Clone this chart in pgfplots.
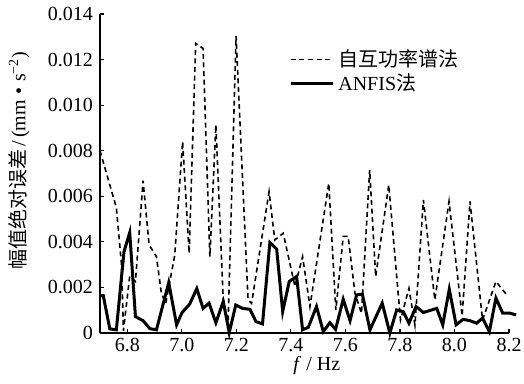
\documentclass[border=0pt]{standalone}
\usepackage{fontspec}
\setmainfont{Liberation Serif}
\newfontfamily\cjk{Noto Sans CJK SC}
\usepackage{pgfplots}
\pgfplotsset{compat=1.18}
\pgfplotstableread{
f v
6.700 0.00164
6.712 0.00164
6.736 0.00018
6.760 0.00014
6.788 0.00357
6.809 0.00441
6.830 0.00072
6.858 0.00054
6.883 0.00019
6.907 0.00014
6.952 0.00221
6.981 0.00036
7.001 0.00090
7.029 0.00127
7.055 0.00195
7.078 0.00108
7.100 0.00131
7.125 0.00045
7.152 0.00138
7.174 0.00002
7.198 0.00123
7.223 0.00108
7.250 0.00104
7.272 0.00050
7.296 0.00040
7.323 0.00397
7.348 0.00368
7.370 0.00094
7.394 0.00226
7.421 0.00248
7.443 0.00014
7.464 0.00025
7.494 0.00116
7.519 0.00006
7.543 0.00045
7.564 0.00016
7.592 0.00148
7.617 0.00054
7.641 0.00167
7.662 0.00171
7.690 0.00014
7.735 0.00131
7.763 0.00000
7.788 0.00101
7.812 0.00094
7.833 0.00043
7.859 0.00116
7.886 0.00090
7.935 0.00108
7.957 0.00036
7.981 0.00192
8.006 0.00036
8.032 0.00060
8.057 0.00054
8.081 0.00043
8.103 0.00065
8.128 0.00006
8.152 0.00153
8.177 0.00087
8.204 0.00087
8.226 0.00079
}\anfis
\pgfplotstableread{
f v
6.700 0.00800
6.760 0.00550
6.779 0.00300
6.786 0.00010
6.809 0.00250
6.830 0.00226
6.858 0.00668
6.880 0.00387
6.907 0.00335
6.925 0.00175
6.941 0.00130
6.974 0.00340
7.003 0.00840
7.027 0.00350
7.051 0.01271
7.078 0.01249
7.103 0.00335
7.125 0.00913
7.152 0.00145
7.170 0.00050
7.199 0.01303
7.243 0.00145
7.256 0.00130
7.320 0.00620
7.341 0.00408
7.372 0.00438
7.415 0.00204
7.443 0.00335
7.470 0.00116
7.539 0.00657
7.565 0.00101
7.592 0.00424
7.610 0.00424
7.635 0.00175
7.659 0.00086
7.689 0.00716
7.711 0.00248
7.759 0.00650
7.802 0.00057
7.833 0.00196
7.855 0.00035
7.886 0.00584
7.928 0.00145
7.980 0.00577
8.028 0.00075
8.057 0.00577
8.103 0.00057
8.152 0.00226
8.192 0.00167
}\psd
\begin{document}
\begin{tikzpicture}
\begin{axis}[
  at={(0,0)}, anchor=south west,
  scale only axis, width=204.5pt, height=159.5pt,
  xmin=6.7, xmax=8.2, ymin=0, ymax=0.014, clip=false,
  axis x line*=bottom, axis y line*=left,
  axis line style={-, line width=0.75pt},
  tick align=inside, major tick length=2pt,
  tick style={line width=0.6pt, black},
  xtick={6.8,7.0,7.2,7.4,7.6,7.8,8.0,8.2},
  xticklabels={6.8,7.0,7.2,7.4,7.6,7.8,8.0,8.2},
  ytick={0,0.002,0.004,0.006,0.008,0.010,0.012,0.014},
  yticklabels={0,0.002,0.004,0.006,0.008,0.010,0.012,0.014},
  scaled ticks=false,
  tick label style={font=\fontsize{10}{12}\selectfont},
  xticklabel style={yshift=1pt},
  xlabel={\textit{f} / Hz},
  xlabel style={at={(axis description cs:0.53,0)}, anchor=center, yshift=-16.5pt, font=\fontsize{10}{12}\selectfont},
  ylabel={{\cjk 幅值绝对误差}\,/\,(mm\;•\;s\textsuperscript{−2})},
  ylabel style={at={(axis description cs:-0.198,0.54)}, anchor=center, font=\fontsize{10}{12}\selectfont},
  legend style={draw=none, fill=none, at={(axis description cs:0.462,0.902)}, anchor=north west,
    font=\fontsize{10}{12}\selectfont, row sep=-2pt, inner sep=0pt},
  legend cell align=left,
  legend image code/.code={\draw[#1] (0pt,0pt) -- (21pt,0pt);},
]
\addplot[black, line width=0.8pt, dash pattern=on 2.5pt off 1.8pt] table[x=f,y=v] {\psd};
\addlegendentry{{\cjk 自互功率谱法}}
\addplot[black, line width=1.5pt] table[x=f,y=v] {\anfis};
\addlegendentry{ANFIS{\cjk 法}}
\end{axis}
\pgfresetboundingbox
\path[use as bounding box] (-50pt,-25.5pt) rectangle (212pt,166.5pt);
\end{tikzpicture}
\end{document}
